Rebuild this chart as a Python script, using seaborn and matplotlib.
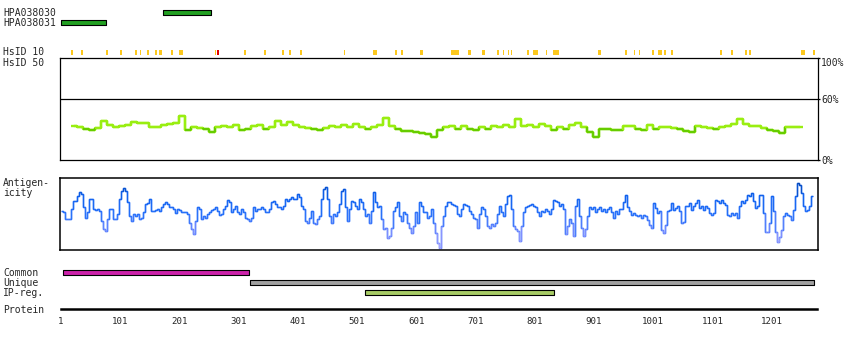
import numpy as np
import matplotlib
matplotlib.use("Agg")
import matplotlib.pyplot as plt
import seaborn as sns
from matplotlib.collections import LineCollection
from matplotlib.colors import LinearSegmentedColormap, Normalize

# ---------------- data ----------------
protein_length = 1277
tick_residues = [1, 101, 201, 301, 401, 501, 601, 701, 801, 901, 1001, 1101, 1201]

antibodies = ["HPA038030", "HPA038031"]
antibody_start = [173, 1]
antibody_end = [254, 77]

regions = ["Common", "Unique", "IP-reg."]
region_start = [4, 321, 515]
region_end = [319, 1273, 833]

# HsID 10 marks: centre residue, width (residues), kind (0 = yellow, 1 = red)
hsid10_pos = [20, 37, 79, 102, 128, 136, 148, 161, 169, 189, 204, 262.5, 266, 312, 345,
              376, 388, 406, 480, 531, 567, 577, 609, 664, 672, 690, 714, 739, 748, 756,
              761, 789, 802, 821, 837, 910, 955, 970, 977, 1000, 1012, 1020, 1033, 1116,
              1134, 1157, 1165, 1254, 1273]
hsid10_width = [3.4, 3.4, 3.4, 3.4, 3.4, 1.7, 3.4, 3.4, 6, 3.4, 6, 2, 4, 3.4, 3.4,
                5, 3.4, 3.4, 1.7, 6, 3.4, 3.4, 5, 10, 3.4, 5, 5, 3.4, 2.5, 1.7,
                1.7, 3.4, 8.5, 2.5, 10, 5, 3.4, 1.7, 1.7, 3.4, 6.8, 3.4, 3.4, 3.4,
                3.4, 3.4, 3.4, 6, 3.4]
hsid10_kind = [0] * 12 + [1] + [0] * 36

# HsID 50 (%), sampled evenly from residue 23 to 1249
hsid50_start, hsid50_end = 23, 1249
hsid50_values = [
    34, 33, 31, 30, 32, 39, 35, 33, 34, 35,
    38, 37, 37, 33, 33, 35, 36, 37, 43, 30,
    33, 32, 31, 28, 33, 34, 33, 35, 30, 31,
    34, 35, 31, 33, 39, 35, 38, 35, 33, 32,
    31, 30, 32, 34, 33, 35, 33, 36, 33, 31,
    33, 35, 41, 34, 31, 29, 29, 28, 27, 26,
    23, 30, 33, 34, 31, 34, 31, 30, 33, 31,
    34, 33, 35, 33, 40, 34, 35, 33, 36, 34,
    30, 33, 31, 35, 37, 33, 28, 23, 31, 31,
    30, 30, 34, 34, 31, 30, 35, 31, 33, 33,
    32, 31, 29, 28, 34, 33, 32, 31, 33, 34,
    36, 40, 36, 34, 34, 32, 30, 29, 27, 33,
    33, 33]

# Antigenicity (arbitrary units, 0-214), sampled evenly from residue 3 to 1269
antigen_start, antigen_end = 3, 1269
antigen_values = [
    117, 114, 94, 92, 94, 122, 147, 147, 162, 172,
    167, 127, 97, 114, 152, 152, 122, 120, 122, 117,
    87, 62, 57, 94, 122, 122, 92, 92, 107, 152,
    177, 184, 177, 142, 102, 87, 107, 102, 107, 92,
    97, 114, 137, 140, 152, 117, 117, 120, 122, 117,
    127, 136, 142, 137, 127, 127, 122, 110, 122, 120,
    112, 114, 112, 107, 82, 62, 47, 87, 127, 122,
    92, 102, 97, 107, 112, 120, 122, 127, 117, 104,
    107, 122, 132, 150, 142, 114, 122, 130, 114, 107,
    122, 112, 97, 92,
    87, 97, 127, 117, 122, 122, 127, 122, 114, 112,
    122, 142, 147, 137, 127, 127, 122, 132, 152, 147,
    152, 157, 152, 152, 167, 157, 132, 122, 87, 82,
    97, 117, 82, 77, 92, 102, 152, 182, 187, 152,
    102, 82, 107, 102, 112, 137, 177, 182, 127, 87,
    122, 147, 142, 132, 122, 152, 142, 122, 102, 107,
    82, 117, 172, 142, 127, 132, 92, 62, 67, 37,
    42, 67, 117, 127, 142, 102, 87, 112, 107, 82,
    67, 52, 72, 112, 82, 142, 132, 112, 112, 97,
    102, 122, 82, 52, 22, 7,
    72, 102, 132, 144, 142, 137, 134, 132, 107, 102,
    122, 137, 134, 132, 117, 107, 97, 92, 67, 107,
    127, 122, 102, 72, 67, 77, 72, 82, 107, 130,
    112, 102, 137, 160, 164, 122, 72, 62, 57, 27,
    72, 112, 127, 132, 134, 137, 132, 127, 112, 102,
    117, 112, 122, 117, 107, 122, 150, 147, 142, 132,
    137, 122, 47, 72, 92, 82, 42, 132, 152, 102,
    67, 42, 62, 102, 127, 122, 127, 112, 122, 127,
    117, 122, 112, 122, 127, 112, 97, 117, 107, 122,
    122, 142, 164, 127, 117,
    105, 110, 105, 100, 105, 95, 105, 100, 90, 75,
    65, 140, 125, 110, 115, 60, 50, 75, 115, 120,
    140, 120, 125, 130, 115, 80, 85, 130, 130, 140,
    120, 130, 140, 150, 125, 130, 120, 130, 125, 110,
    105, 110, 150, 145, 140, 150, 140, 135, 105, 100,
    110, 105, 110, 95, 130, 145, 140, 150, 165, 160,
    170, 145, 125, 130, 165, 165, 110, 55, 55, 80,
    160, 115, 55, 25, 40, 60, 100, 110, 105, 100,
    90, 120, 160, 200, 195, 170, 130, 115, 120, 130,
    160]

# ---------------- styles ----------------
antibody_color = "#22a022"
region_colors = ["#cc22aa", "#a0a0a0", "#a8cc66"]
hsid10_colors = ["#fcc81e", "#e00000"]
hsid50_light, hsid50_dark = "#99ee11", "#66cc00"
antigen_cmap = LinearSegmentedColormap.from_list(
    "ag", [(0.0, "#b4a8ff"), (0.3, "#6f88ff"), (0.5, "#2a72fa"),
           (0.75, "#0f62ee"), (1.0, "#003c9c")])

sns.set_style("white")
plt.rcParams["font.family"] = ["DejaVu Sans Mono"]
plt.rcParams["font.size"] = 7

W, H = 850, 350
X_RES1 = 60.8
PX_PER_RES = 0.5925


def res_at(px):
    return 1 + (px - X_RES1) / PX_PER_RES


def rect(left, top, right, bottom):
    return [left / W, 1 - bottom / H, (right - left) / W, (bottom - top) / H]


def step_segments(x, y):
    x = np.asarray(x, float)
    y = np.asarray(y, float)
    mids = (x[:-1] + x[1:]) / 2
    left = np.concatenate([[x[0] - (mids[0] - x[0])], mids])
    right = np.concatenate([mids, [x[-1] + (x[-1] - mids[-1])]])
    segs, vals = [], []
    for i in range(len(x)):
        segs.append([(left[i], y[i]), (right[i], y[i])])
        vals.append(y[i])
        if i < len(x) - 1:
            segs.append([(right[i], y[i]), (right[i], y[i + 1])])
            vals.append((y[i] + y[i + 1]) / 2)
    return segs, np.array(vals)


fig = plt.figure(figsize=(8.5, 3.5), dpi=100)

# full-figure track axes (x = residue, y = pixel rows)
track = fig.add_axes([0, 0, 1, 1])
track.set_xlim(res_at(0), res_at(W))
track.set_ylim(H, 0)
track.axis("off")

# antibody bars
ab_rows = [(10.3, 4.4), (20.3, 4.4)]
for (s, e), (yt, hh) in zip(zip(antibody_start, antibody_end), ab_rows):
    track.broken_barh([(s, e - s)], (yt, hh), facecolors=antibody_color,
                      edgecolors="black", linewidth=0.8)

# region bars
reg_rows = [(270.3, 4.4), (280.3, 4.4), (290.3, 4.4)]
for (s, e), (yt, hh), c in zip(zip(region_start, region_end), reg_rows, region_colors):
    track.broken_barh([(s, e - s)], (yt, hh), facecolors=c,
                      edgecolors="black", linewidth=0.8)

# HsID 10 marks
for kind in (0, 1):
    spans = [(p - w / 2, w) for p, w, k in zip(hsid10_pos, hsid10_width, hsid10_kind) if k == kind]
    track.broken_barh(spans, (49.8, 5.2), facecolors=hsid10_colors[kind], edgecolors="none",
                      zorder=3 + kind)

# ---------------- HsID 50 panel ----------------
ax1 = fig.add_axes(rect(60.3, 58.3, 817.7, 160.3))
x50 = np.linspace(hsid50_start, hsid50_end, len(hsid50_values))
sns.lineplot(x=x50, y=hsid50_values, ax=ax1, color=hsid50_light, lw=1.7,
             drawstyle="steps-mid", estimator=None, sort=False)
segs, vals = step_segments(x50, hsid50_values)
cols = [hsid50_dark if v < 32 else hsid50_light for v in vals]
ax1.add_collection(LineCollection(segs, colors=cols, linewidths=1.7, capstyle="butt"))
ax1.axhline(60, color="black", lw=0.9)
ax1.set_xlim(res_at(60.3), res_at(817.7))
ax1.set_ylim(0, 100)
ax1.set_xticks([])
ax1.yaxis.tick_right()
ax1.set_yticks([0, 60, 100])
ax1.set_yticklabels(["0%", "60%", "100%"])
ax1.tick_params(axis="y", right=True, left=False, length=1.6, width=0.9, pad=0.8,
                labelsize=7, direction="out", color="black")
ax1.get_yticklabels()[2].set_verticalalignment("top")
for sp in ax1.spines.values():
    sp.set_color("black")
    sp.set_linewidth(0.9)
ax1.set_xlabel("")
ax1.set_ylabel("")

# ---------------- Antigenicity panel ----------------
ax2 = fig.add_axes(rect(60.3, 178.3, 817.7, 250.0))
xag = np.linspace(antigen_start, antigen_end, len(antigen_values))
sns.lineplot(x=xag, y=antigen_values, ax=ax2, color="#2a72fa", lw=1.0,
             drawstyle="steps-mid", estimator=None, sort=False)
segs, vals = step_segments(xag, antigen_values)
norm = Normalize(0, 214)
ax2.add_collection(LineCollection(segs, colors=antigen_cmap(norm(vals)), linewidths=1.0))
ax2.set_xlim(res_at(60.3), res_at(817.7))
ax2.set_ylim(0, 214)
ax2.set_xticks([])
ax2.set_yticks([])
for sp in ax2.spines.values():
    sp.set_color("black")
    sp.set_linewidth(1.1)
ax2.set_xlabel("")
ax2.set_ylabel("")

# ---------------- Protein ruler ----------------
ax3 = fig.add_axes(rect(X_RES1, 308.3, X_RES1 + (protein_length - 1) * PX_PER_RES, 309.3))
ax3.set_xlim(1, protein_length)
ax3.set_facecolor("none")
for name, sp in ax3.spines.items():
    sp.set_visible(name == "bottom")
ax3.spines["bottom"].set_linewidth(1.8)
ax3.spines["bottom"].set_color("black")
ax3.set_yticks([])
ax3.set_xticks(tick_residues)
ax3.set_xticklabels([str(t) for t in tick_residues])
ax3.set_xticks([protein_length], minor=True)
ax3.tick_params(axis="x", which="both", direction="out", length=3.0, width=1.3,
                color="black", labelsize=6.6, pad=2.5)

# ---------------- labels ----------------
def label(text, y):
    fig.text(3 / W, 1 - y / H, text, ha="left", va="center", fontsize=7)

label("HPA038030", 12.7)
label("HPA038031", 22.7)
label("HsID 10", 52.3)
label("HsID 50", 62.7)
label("Antigen-", 182.7)
label("icity", 193.3)
label("Common", 272.7)
label("Unique", 282.7)
label("IP-reg.", 292.7)
label("Protein", 310.0)

fig.savefig("out.png", dpi=100, facecolor="white")
